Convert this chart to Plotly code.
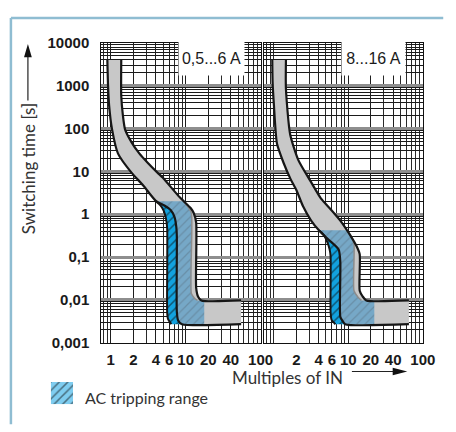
import plotly.graph_objects as go

W, H = 456, 432
OFF = 8  # page body margin: the figure starts 8 px in from the window corner

# ---------------- data ----------------
# tick values / labels
X_TICKS_LEFT = [1, 2, 4, 6, 10, 20, 40, 100]
X_TICKS_RIGHT = [2, 4, 6, 10, 20, 40, 100]
X_MINOR_LEFT = [0.8, 0.9, 3, 5, 7, 8, 9, 30, 50, 60, 70, 80, 90]
X_MINOR_RIGHT = [0.8, 0.9, 1, 3, 5, 7, 8, 9, 30, 50, 60, 70, 80, 90]
Y_TICKS = [0.001, 0.01, 0.1, 1, 10, 100, 1000, 10000]
Y_TICK_TEXT = ["0,001", "0,01", "0,1", "1", "10", "100", "1000", "10000"]
Y_MINOR = [m * 10 ** e for e in range(-3, 4) for m in range(2, 10)]

# left panel (0,5...6 A) - gray tripping band
L_GL_X = [0.90, 0.92, 0.95, 1.04, 1.25, 1.89, 2.68, 4.0, 5.2, 6.3, 7.1, 7.5, 7.62, 7.62, 7.93, 8.93]
L_GL_Y = [4000, 980, 350, 96, 26, 9.35, 4.8, 2.05, 1.6, 1.25, 0.85, 0.5, 0.3, 0.0052, 0.0033, 0.0027]
L_GR_X = [1.38, 1.38, 1.45, 1.55, 1.88, 2.40, 3.13, 4.2, 4.92, 8.4, 11.7, 12.8, 13.8, 13.8, 14.6, 16.2, 55]
L_GR_Y = [4000, 583, 207, 96, 49, 26.3, 15.7, 9.35, 7.2, 2.44, 1.38, 1.07, 0.64, 0.019, 0.012, 0.0097, 0.0097]
L_END_X = 55
L_BOTTOM_Y = 0.0027
# left panel AC tripping range
L_ACR_X = [4.0, 9.4, 10.5, 11.9, 11.9, 13.2, 14.4, 17.7, 17.7]
L_ACR_Y = [2.0, 2.0, 1.55, 1.07, 0.014, 0.0108, 0.0097, 0.0097, 0.0027]
L_ACL_X = [4.0, 4.6, 5.1, 5.45, 5.66, 5.66, 5.8, 6.43]
L_ACL_Y = [2.0, 1.6, 1.2, 0.8, 0.47, 0.0052, 0.0036, 0.0027]

# right panel (8...16 A)
R_GL_X = [0.95, 0.96, 1.0, 1.10, 1.35, 1.68, 2.0, 2.46, 3.16, 4.02, 5.48, 7.4, 7.79, 7.79, 8.28, 9.05]
R_GL_Y = [4000, 1200, 348, 44, 15.7, 6.5, 3.69, 1.53, 0.71, 0.42, 0.25, 0.15, 0.077, 0.004, 0.0033, 0.0027]
R_GR_X = [1.45, 1.45, 1.65, 2.12, 3.16, 4.27, 5.77, 7.79, 10.5, 12.9, 14.2, 14.2, 15.6, 17.4, 65]
R_GR_Y = [4000, 838, 74, 18.6, 5.6, 2.35, 1.31, 0.71, 0.33, 0.178, 0.116, 0.0163, 0.0119, 0.0097, 0.0097]
R_END_X = 65
R_BOTTOM_Y = 0.0027
R_ACR_X = [4.02, 9.5, 11.0, 11.9, 11.9, 13.5, 15.0, 22.3, 22.3]
R_ACR_Y = [0.42, 0.42, 0.3, 0.2, 0.0163, 0.0115, 0.0097, 0.0097, 0.0027]
R_ACL_X = [4.02, 4.7, 5.23, 5.6, 5.77, 5.77, 5.95, 6.7]
R_ACL_Y = [0.42, 0.32, 0.22, 0.15, 0.104, 0.005, 0.0034, 0.0027]

PANEL_LABELS = ["0,5...6 A", "8...16 A"]

# ---------------- styles ----------------
GRAY = "#c8c8c8"
CYAN = "#12a2df"
STEEL = "#76a8c7"
LEGEND_BLUE = "#7fcdf0"
OUT = "#161616"
BORDER = "#8fbdd2"
TXT = "#333333"


def px_x(p):
    return (p - OFF) / W


def px_y(p):
    return 1 - (p - OFF) / H


fig = go.Figure()


def add_panel(xa, ya, glx, gly, grx, gry, endx, boty, acrx, acry, aclx, acly):
    # AC band (full) - cyan with black hatch
    fig.add_trace(go.Scatter(
        x=acrx + aclx[::-1], y=acry + acly[::-1], xaxis=xa, yaxis=ya,
        mode="lines", fill="toself", line=dict(width=0), fillcolor=CYAN,
        fillpattern=dict(shape="/", bgcolor=CYAN, fgcolor="#0a0a0a", size=6, solidity=0.25),
        hoverinfo="skip", showlegend=False))
    # gray band
    fig.add_trace(go.Scatter(
        x=glx + [endx] + grx[::-1], y=gly + [boty] + gry[::-1], xaxis=xa, yaxis=ya,
        mode="lines", fill="toself", line=dict(width=0), fillcolor=GRAY,
        hoverinfo="skip", showlegend=False))
    # overlap region
    top = acry[0]
    ovl = [(x, y) for x, y in zip(glx, gly) if y <= top * 1.03]
    ox = acrx + [p[0] for p in ovl][::-1]
    oy = acry + [p[1] for p in ovl][::-1]
    fig.add_trace(go.Scatter(
        x=ox, y=oy, xaxis=xa, yaxis=ya,
        mode="lines", fill="toself", line=dict(width=0), fillcolor=STEEL,
        fillpattern=dict(shape="/", bgcolor=STEEL, fgcolor="#5b7485", size=6, solidity=0.2),
        hoverinfo="skip", showlegend=False))
    # AC right boundary (light line)
    fig.add_trace(go.Scatter(
        x=acrx[1:7], y=acry[1:7], xaxis=xa, yaxis=ya, mode="lines",
        line=dict(color="#8c8c8c", width=1.5, shape="spline", smoothing=0.6),
        hoverinfo="skip", showlegend=False))
    # AC left boundary
    fig.add_trace(go.Scatter(
        x=aclx, y=acly, xaxis=xa, yaxis=ya, mode="lines",
        line=dict(color=OUT, width=2, shape="spline", smoothing=0.6),
        hoverinfo="skip", showlegend=False))
    # gray band outlines
    fig.add_trace(go.Scatter(
        x=glx + [endx], y=gly + [boty], xaxis=xa, yaxis=ya, mode="lines",
        line=dict(color=OUT, width=2.2, shape="spline", smoothing=0.6),
        hoverinfo="skip", showlegend=False))
    fig.add_trace(go.Scatter(
        x=grx, y=gry, xaxis=xa, yaxis=ya, mode="lines",
        line=dict(color=OUT, width=2.2, shape="spline", smoothing=0.6),
        hoverinfo="skip", showlegend=False))


add_panel("x", "y", L_GL_X, L_GL_Y, L_GR_X, L_GR_Y, L_END_X, L_BOTTOM_Y,
          L_ACR_X, L_ACR_Y, L_ACL_X, L_ACL_Y)
add_panel("x2", "y2", R_GL_X, R_GL_Y, R_GR_X, R_GR_Y, R_END_X, R_BOTTOM_Y,
          R_ACR_X, R_ACR_Y, R_ACL_X, R_ACL_Y)

# legend swatch
fig.add_trace(go.Scatter(
    x=[0, 1, 1, 0, 0], y=[0, 0, 1, 1, 0], xaxis="x3", yaxis="y3",
    mode="lines", fill="toself", line=dict(width=0), fillcolor=LEGEND_BLUE,
    fillpattern=dict(shape="/", bgcolor=LEGEND_BLUE, fgcolor="#111111", size=6, solidity=0.25),
    hoverinfo="skip", showlegend=False))

tickfont = dict(family="Liberation Sans", size=15, color="#1a1a1a", weight="bold")
XR = [-0.127, 2.0]
YR = [-3, 4]

PLOT_TOP, PLOT_BOT = 35, 347
L_DOM = [px_x(104), px_x(268)]
R_DOM = [px_x(272), px_x(435)]
Y_DOM = [px_y(PLOT_BOT), px_y(PLOT_TOP)]


def xaxis(dom, tv, minor_tv):
    return dict(
        type="log", range=XR, domain=dom, anchor=None,
        tickmode="array", tickvals=tv, ticktext=[str(v) for v in tv],
        tickfont=tickfont, ticks="", ticklabelstandoff=3,
        showgrid=True, gridcolor="#1e1e1e", gridwidth=1,
        minor=dict(tickmode="array", tickvals=minor_tv, showgrid=True,
                   gridcolor="#2a2a2a", gridwidth=1, ticks=""),
        showline=True, linecolor="#111", linewidth=1, mirror=True,
        zeroline=False, fixedrange=True)


def yaxis(show_labels):
    return dict(
        type="log", range=YR, domain=Y_DOM,
        tickmode="array", tickvals=Y_TICKS, ticktext=Y_TICK_TEXT,
        showticklabels=show_labels,
        tickfont=tickfont, ticks="", ticklabelstandoff=8,
        showgrid=True, gridcolor="#8e8e8e", gridwidth=3,
        minor=dict(tickmode="array", tickvals=Y_MINOR, showgrid=True,
                   gridcolor="#1a1a1a", gridwidth=1, ticks=""),
        showline=True, linecolor="#111", linewidth=1, mirror=True,
        zeroline=False, fixedrange=True)


xa1 = xaxis(L_DOM, X_TICKS_LEFT, X_MINOR_LEFT)
xa1["anchor"] = "y"
xa2 = xaxis(R_DOM, X_TICKS_RIGHT, X_MINOR_RIGHT)
xa2["anchor"] = "y2"
ya1 = yaxis(True)
ya1["anchor"] = "x"
ya2 = yaxis(False)
ya2["anchor"] = "x2"

annotations = [
    dict(text=PANEL_LABELS[0], x=px_x(217.5), y=px_y(51.5), xref="paper", yref="paper",
         xanchor="center", yanchor="middle",
         showarrow=False, bgcolor="white", width=65, height=33, borderpad=0,
         font=dict(family="Liberation Sans", size=16, color="#1a1a1a")),
    dict(text=PANEL_LABELS[1], x=px_x(384), y=px_y(51.5), xref="paper", yref="paper",
         xanchor="center", yanchor="middle",
         showarrow=False, bgcolor="white", width=63, height=33, borderpad=0,
         font=dict(family="Liberation Sans", size=16, color="#1a1a1a")),
    dict(text="Switching time [s]", x=px_x(29), y=px_y(166), xref="paper", yref="paper",
         xanchor="center", yanchor="middle",
         showarrow=False, textangle=-90,
         font=dict(family="Lato", size=17, color=TXT)),
    dict(text="Multiples of IN", x=px_x(296), y=px_y(383), xref="paper", yref="paper",
         xanchor="center", yanchor="middle",
         showarrow=False, font=dict(family="Lato", size=17, color=TXT)),
    dict(text="AC tripping range", x=px_x(85), y=px_y(404), xref="paper", yref="paper",
         xanchor="left", yanchor="middle",
         showarrow=False, font=dict(family="Lato", size=16, color=TXT)),
]


def ppath(pts):
    return "M " + " L ".join(f"{px_x(a):.5f},{px_y(b):.5f}" for a, b in pts) + " Z"


shapes = [
    dict(type="line", xref="paper", yref="paper", x0=px_x(11), x1=px_x(456), y0=px_y(9), y1=px_y(9),
         line=dict(color=BORDER, width=2.5)),
    dict(type="line", xref="paper", yref="paper", x0=px_x(11), x1=px_x(11), y0=px_y(9), y1=px_y(432),
         line=dict(color=BORDER, width=2.5)),
    # y-title arrow
    dict(type="line", xref="paper", yref="paper", x0=px_x(28.5), x1=px_x(28.5), y0=px_y(95), y1=px_y(48),
         line=dict(color="#222", width=1.2)),
    dict(type="path", xref="paper", yref="paper", path=ppath([(28.5, 36), (24.5, 50), (32.5, 50)]),
         fillcolor="#111", line=dict(width=0)),
    # x-title arrow
    dict(type="line", xref="paper", yref="paper", x0=px_x(362), x1=px_x(406), y0=px_y(377), y1=px_y(377),
         line=dict(color="#222", width=1.2)),
    dict(type="path", xref="paper", yref="paper", path=ppath([(419, 377), (404, 373), (404, 381)]),
         fillcolor="#111", line=dict(width=0)),
]

fig.update_layout(
    width=W, height=H, margin=dict(l=0, r=0, t=0, b=0),
    paper_bgcolor="white", plot_bgcolor="white", showlegend=False,
    xaxis=xa1, yaxis=ya1, xaxis2=xa2, yaxis2=ya2,
    xaxis3=dict(domain=[px_x(52), px_x(75)], range=[0, 1], visible=False, anchor="y3", fixedrange=True),
    yaxis3=dict(domain=[px_y(411), px_y(388)], range=[0, 1], visible=False, anchor="x3", fixedrange=True),
    annotations=annotations, shapes=shapes,
)

fig.write_html("out.html")
